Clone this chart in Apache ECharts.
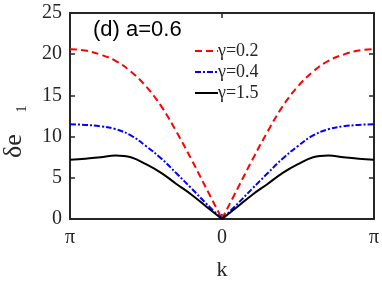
<!DOCTYPE html>
<html><head><meta charset="utf-8">
<script src="https://cdn.jsdelivr.net/npm/echarts@6/dist/echarts.min.js"></script>
<style>html,body{margin:0;padding:0;background:#fff}#c{width:382px;height:286px}</style>
</head><body><div id="c"></div>
<script>
// k in units of pi
const kFrac = [-1,-0.9,-0.8,-0.7,-0.6,-0.5,-0.4,-0.3,-0.2,-0.1,0,0.1,0.2,0.3,0.4,0.5,0.6,0.7,0.8,0.9,1];
const gamma02 = [20.6,20.45,19.95,19.2,17.9,16.1,13.7,10.6,7.2,3.6,0,3.6,7.2,10.6,13.7,16.1,17.9,19.2,19.95,20.45,20.6];
const gamma04 = [11.5,11.42,11.25,10.9,10.15,8.85,7.35,5.55,3.7,1.8,0,1.8,3.7,5.55,7.35,8.85,10.15,10.9,11.25,11.42,11.5];
const gamma15 = [7.2,7.3,7.5,7.7,7.5,6.65,5.6,4.25,2.95,1.45,0,1.45,2.95,4.25,5.6,6.65,7.5,7.7,7.5,7.3,7.2];
const seriesNames = ['\u03b3=0.2','\u03b3=0.4','\u03b3=1.5'];
const xTickLabels = {'-1':'\u03c0','0':'0','1':'\u03c0'};
const yTicks = [0,5,10,15,20,25];

const ink = '#262626';
const serif = 'Liberation Serif';
function halves(vals){
  const left=[], right=[];
  kFrac.forEach((k,i)=>{ if(k<=0) left.push([k,vals[i]]); if(k>=0) right.push([k,vals[i]]); });
  return [left,right];
}
const styles = [
  {color:'#ff0000', type:[7,4]},
  {color:'#0000ff', type:[6,2,2,2]},
  {color:'#000000', type:'solid'}
];
const allVals=[gamma02,gamma04,gamma15];
const series=[];
allVals.forEach((v,i)=>{
  halves(v).forEach(d=>{
    series.push({name:seriesNames[i], type:'line', data:d, smooth:0.4, showSymbol:false, symbol:'none',
      lineStyle:{color:styles[i].color, type:styles[i].type, width:2}, itemStyle:{color:styles[i].color}, z:3});
  });
});
const chart = echarts.init(document.getElementById('c'));
chart.setOption({
  animation:false,
  title:{text:'(d) a=0.6', left:88, top:14, textStyle:{fontFamily:'Liberation Sans', fontSize:22, fontWeight:'normal', color:'#000'}},
  legend:{orient:'vertical', left:189, top:37, itemWidth:23, itemHeight:10, itemGap:3,
    data:seriesNames, itemStyle:{opacity:0},
    textStyle:{fontFamily:serif, fontSize:18, color:ink, padding:[0,0,0,-5]}},
  grid:{left:70, right:8, top:13, bottom:63},
  graphic:[
    {type:'text', x:14, y:158, rotation:Math.PI/2,
     style:{text:'\u03b4e', textAlign:'left', textVerticalAlign:'middle', font:'26px "Liberation Serif"', fill:ink}},
    {type:'text', x:22.5, y:109, rotation:Math.PI/2,
     style:{text:'1', textAlign:'center', textVerticalAlign:'middle', font:'14px "Liberation Serif"', fill:ink}}
  ],
  xAxis:[{type:'value', min:-1, max:1, interval:1,
    axisLine:{onZero:false, lineStyle:{color:ink, width:2}},
    axisTick:{inside:true, length:5, lineStyle:{color:ink, width:1.5}},
    axisLabel:{formatter:v=>xTickLabels[String(v)], fontFamily:serif, fontSize:20, color:ink, margin:9},
    splitLine:{show:false},
    name:'k', nameLocation:'middle', nameGap:40, nameTextStyle:{fontFamily:serif, fontSize:22, color:ink}},
   {type:'value', position:'top', min:-1, max:1, interval:1,
    axisLine:{onZero:false, lineStyle:{color:ink, width:2}},
    axisTick:{inside:true, length:5, lineStyle:{color:ink, width:1.5}},
    axisLabel:{show:false}, splitLine:{show:false}}],
  yAxis:[{type:'value', min:yTicks[0], max:yTicks[yTicks.length-1], interval:5,
    axisLine:{show:true, onZero:false, lineStyle:{color:ink, width:2}},
    axisTick:{show:true, inside:true, length:5, lineStyle:{color:ink, width:1.5}},
    axisLabel:{fontFamily:serif, fontSize:20, color:ink, margin:8},
    splitLine:{show:false}},
   {type:'value', position:'right', min:0, max:25, interval:5,
    axisLine:{show:true, onZero:false, lineStyle:{color:ink, width:2}},
    axisTick:{show:true, inside:true, length:5, lineStyle:{color:ink, width:1.5}},
    axisLabel:{show:false}, splitLine:{show:false}}],
  series:series
});
</script></body></html>
